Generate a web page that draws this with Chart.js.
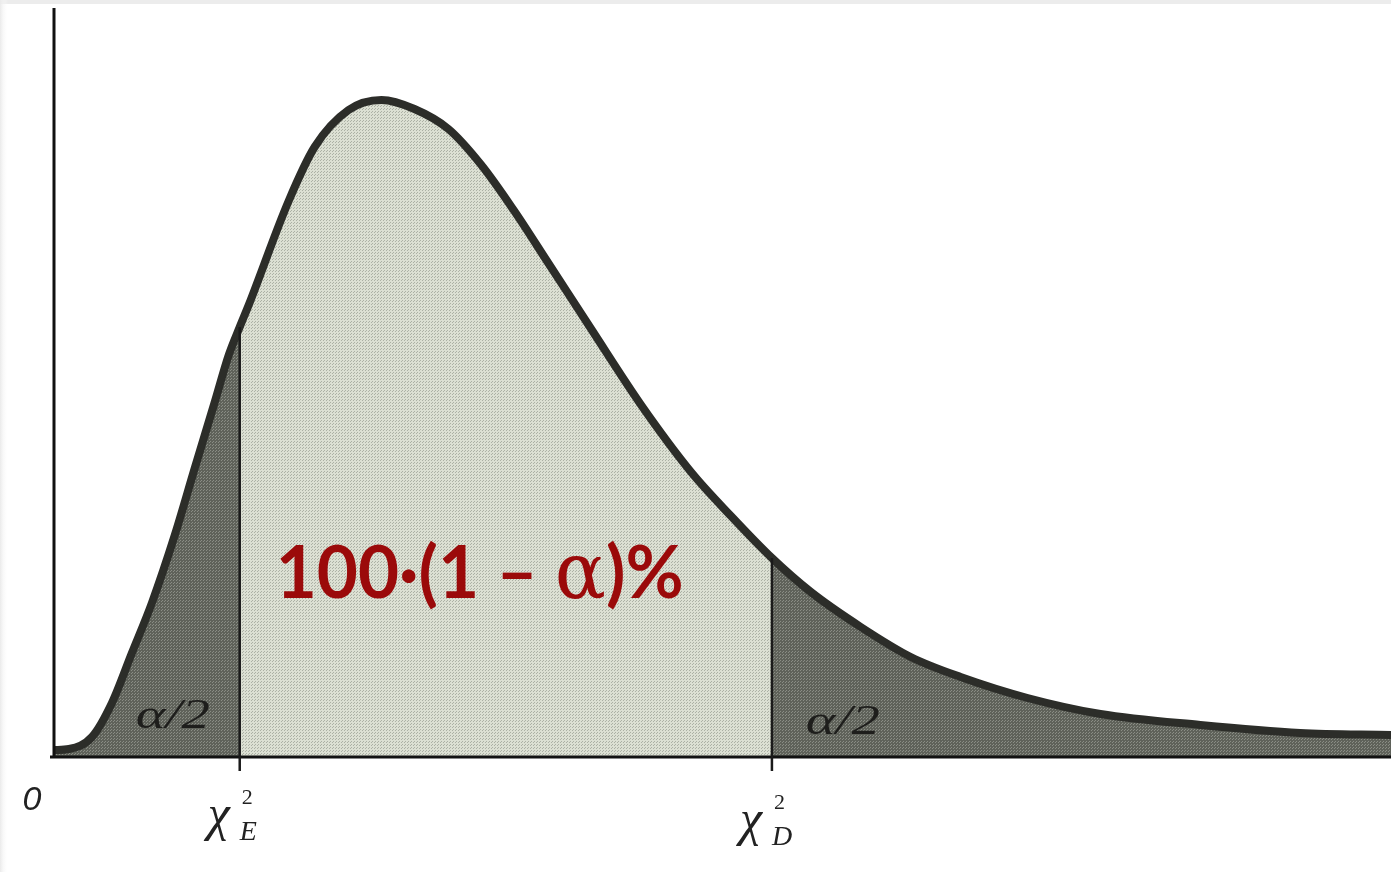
<!DOCTYPE html>
<html>
<head>
<meta charset="utf-8">
<script src="https://cdn.jsdelivr.net/npm/chart.js@4.4.1/dist/chart.umd.min.js"></script>
<style>
  html, body { margin: 0; padding: 0; background: #ffffff; }
  #wrap { width: 1391px; height: 872px; position: relative; }
</style>
</head>
<body>
<div id="wrap"><canvas id="chart"></canvas></div>
<script>
// Chi-square density: horizontal positions and curve heights
const xValues = [0, 0.3, 0.76, 1.16, 1.56, 1.96, 2.42, 2.82, 3.22, 3.5, 3.72, 3.9,
                 4.7, 5.22, 5.9, 6.56, 7.22, 7.9, 8.56, 9.22, 9.9, 10.76, 11.76,
                 12.76, 13.56, 14.38, 15.16, 16.16, 17.16, 18.16, 19.5, 20.96,
                 22.96, 24.96, 26.78];
const densityValues = [7, 8, 20, 54, 104, 154, 222, 289, 355, 402, 430, 452,
                       556, 610, 647, 657, 648, 628, 592, 546, 494, 428, 352,
                       285, 241, 199, 165, 130, 100, 80, 59, 43,
                       32, 24, 22];

// Critical values bounding the central region
const lowerCritical = 3.72;   // χ²_E
const upperCritical = 14.38;  // χ²_D

// Text
const centerParts = ['100·(1 – ', 'α', ')%'];
const tailLabel = 'α/2';
const originLabel = '0';
const chiSymbol = 'χ';
const lowerSub = 'E';
const upperSub = 'D';

const points = xValues.map((x, i) => ({ x: x, y: densityValues[i] }));
const leftTail = points.filter(p => p.x <= lowerCritical);
const middle = points.filter(p => p.x >= lowerCritical && p.x <= upperCritical);
const rightTail = points.filter(p => p.x >= upperCritical);

// Halftone-like fill patterns
function halftone(base, dot) {
  const c = document.createElement('canvas');
  c.width = 3; c.height = 3;
  const g = c.getContext('2d');
  g.fillStyle = base; g.fillRect(0, 0, 3, 3);
  g.fillStyle = dot; g.fillRect(0, 0, 1, 1); g.fillRect(2, 1, 1, 1);
  return g.createPattern(c, 'repeat');
}
const lightFill = halftone('rgb(220,224,211)', 'rgb(172,177,165)');
const darkFill = halftone('rgb(95,98,90)', 'rgb(138,141,133)');

const curveColor = '#2c2d29';

const paper = {
  id: 'paper',
  beforeDraw(chart) {
    const { ctx, width } = chart;
    ctx.save();
    ctx.fillStyle = '#ececec';
    ctx.fillRect(0, 0, width, 4);
    const g = ctx.createLinearGradient(0, 0, 8, 0);
    g.addColorStop(0, '#eaeaea');
    g.addColorStop(1, 'rgba(255,255,255,0)');
    ctx.fillStyle = g;
    ctx.fillRect(0, 0, 8, chart.height);
    ctx.restore();
  }
};

const overlay = {
  id: 'overlay',
  afterDatasetsDraw(chart) {
    const { ctx, chartArea, scales } = chart;
    const xs = scales.x, ys = scales.y;
    const base = ys.getPixelForValue(0);
    ctx.save();

    // axes
    ctx.strokeStyle = '#111';
    ctx.lineWidth = 3;
    ctx.beginPath();
    ctx.moveTo(xs.getPixelForValue(0), chartArea.top);
    ctx.lineTo(xs.getPixelForValue(0), base);
    ctx.moveTo(chartArea.left - 4, base);
    ctx.lineTo(chartArea.right, base);
    ctx.stroke();

    // critical value markers
    const markers = [
      [lowerCritical, densityValues[xValues.indexOf(lowerCritical)]],
      [upperCritical, densityValues[xValues.indexOf(upperCritical)]]
    ];
    ctx.lineWidth = 2.5;
    ctx.strokeStyle = '#1a1a1a';
    markers.forEach(([x, h]) => {
      const px = xs.getPixelForValue(x);
      ctx.beginPath();
      ctx.moveTo(px, ys.getPixelForValue(h));
      ctx.lineTo(px, base + 14);
      ctx.stroke();
    });

    // tail labels
    ctx.fillStyle = '#1e1e1c';
    ctx.font = 'italic 42px "Liberation Serif"';
    ctx.textBaseline = 'alphabetic';
    ctx.textAlign = 'left';
    const tw = ctx.measureText(tailLabel).width;
    const drawTail = (cx, by) => {
      ctx.save();
      ctx.translate(cx - 37, by);
      ctx.scale(74 / tw, 1);
      ctx.fillText(tailLabel, 0, 0);
      ctx.restore();
    };
    drawTail(xs.getPixelForValue(2.38), base - 29);
    drawTail(xs.getPixelForValue(15.8), base - 23);

    // origin
    ctx.textAlign = 'center';
    ctx.font = 'italic 34px "Liberation Sans"';
    ctx.fillStyle = '#222';
    ctx.fillText(originLabel, 32, base + 53);

    // chi-square critical value labels
    const chiLabel = (x, sub, dy) => {
      const px = xs.getPixelForValue(x);
      ctx.textAlign = 'left';
      ctx.fillStyle = '#222';
      ctx.font = 'italic 50px "Liberation Serif"';
      ctx.fillText(chiSymbol, px - 32, base + 73 + dy);
      ctx.font = '22px "Liberation Serif"';
      ctx.fillText('2', px + 2, base + 47 + dy);
      ctx.font = 'italic 28px "Liberation Serif"';
      ctx.fillText(sub, px, base + 83 + dy);
    };
    chiLabel(lowerCritical, lowerSub, 0);
    chiLabel(upperCritical, upperSub, 5);

    // central probability label
    ctx.fillStyle = '#9b0a0a';
    ctx.textAlign = 'left';
    const fonts = ['bold 73px "Lato"', '78px "DejaVu Serif"', 'bold 73px "Lato"'];
    const widths = centerParts.map((t, i) => { ctx.font = fonts[i]; return ctx.measureText(t).width; });
    const total = widths.reduce((a, b) => a + b, 0);
    const target = 408;
    const left = xs.getPixelForValue(4.44);
    ctx.translate(left, base - 159);
    ctx.scale(target / total, 1);
    let cx = 0;
    centerParts.forEach((t, i) => {
      ctx.font = fonts[i];
      ctx.fillText(t, cx, 0);
      cx += widths[i];
    });

    ctx.restore();
  }
};

new Chart(document.getElementById('chart'), {
  type: 'line',
  data: {
    datasets: [
      { data: points, borderColor: curveColor, borderWidth: 8, fill: false,
        pointRadius: 0, cubicInterpolationMode: 'monotone', order: 0 },
      { data: leftTail, borderWidth: 0, backgroundColor: darkFill, fill: 'origin',
        pointRadius: 0, cubicInterpolationMode: 'monotone', order: 1 },
      { data: middle, borderWidth: 0, backgroundColor: lightFill, fill: 'origin',
        pointRadius: 0, cubicInterpolationMode: 'monotone', order: 1 },
      { data: rightTail, borderWidth: 0, backgroundColor: darkFill, fill: 'origin',
        pointRadius: 0, cubicInterpolationMode: 'monotone', order: 1 }
    ]
  },
  options: {
    responsive: true,
    maintainAspectRatio: false,
    animation: false,
    layout: { padding: { left: 54, right: 0, top: 8, bottom: 115 } },
    plugins: { legend: { display: false }, tooltip: { enabled: false } },
    scales: {
      x: { type: 'linear', min: 0, max: 26.78, display: false },
      y: { min: 0, max: 749, display: false }
    }
  },
  plugins: [paper, overlay]
});
</script>
</body>
</html>
